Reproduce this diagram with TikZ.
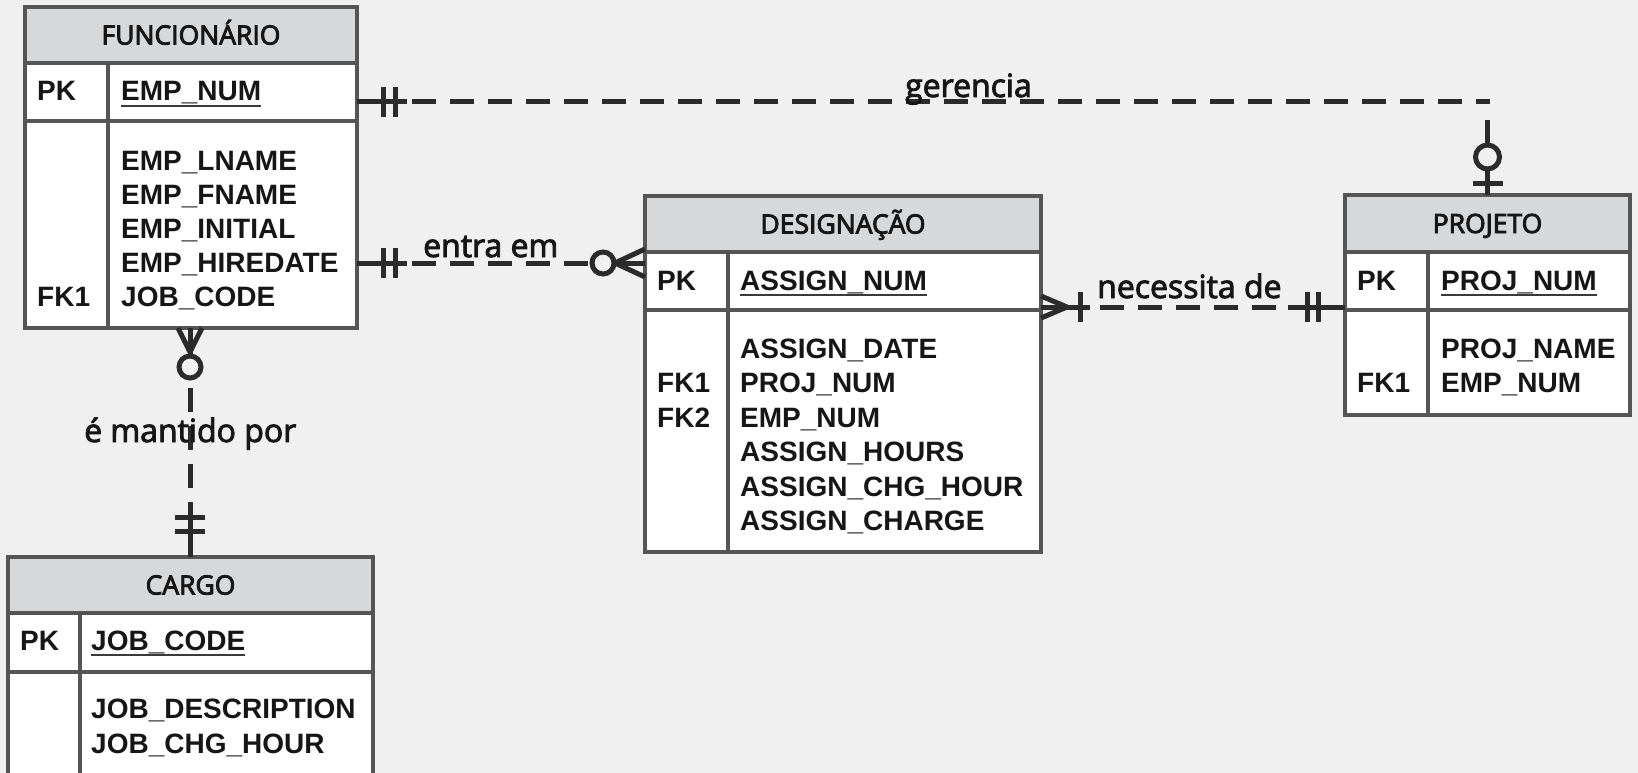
\documentclass[tikz,border=0pt]{standalone}
\usepackage{fontspec}
\setmainfont{Liberation Sans}
\newfontfamily\headfont{Open Sans}
\newfontfamily\fieldfont{Liberation Sans}
% glyphs filled and outlined, for a slightly heavier look of titles and role names
\newcommand\thickglyphs[1]{\special{pdf:literal 2 Tr 0.9 w}#1\special{pdf:literal 0 Tr}}

\definecolor{bg}{HTML}{F0F0F0}
\definecolor{hdrcol}{HTML}{D6D8DA}
\definecolor{bordercol}{HTML}{555555}
\definecolor{linecol}{HTML}{2B2B2B}
\definecolor{txtcol}{HTML}{161616}
\definecolor{ulcol}{HTML}{3A3A3A}

\tikzset{
  tbl/.style={draw=bordercol, line width=3.2pt, fill=white, anchor=north west,
    inner sep=0pt, outer sep=0pt},
  hdr/.style={draw=bordercol, line width=3.2pt, fill=hdrcol, anchor=north west,
    inner sep=0pt, outer sep=0pt, text=txtcol, text height=19pt, text depth=0pt,
    font=\headfont\fontsize{26.5}{30}\selectfont},
  fld/.style={anchor=base west, inner sep=0pt, text=txtcol,
    font=\fieldfont\bfseries\fontsize{28}{34}\selectfont},
  lbl/.style={anchor=base west, inner sep=0pt, text=txtcol,
    font=\headfont\fontsize{32}{38}\selectfont},
  sep/.style={draw=bordercol, line width=3.2pt},
  uline/.style={draw=ulcol, line width=2.5pt},
  rel/.style={draw=linecol, line width=5pt},
  reldash/.style={rel, dash pattern=on 24pt off 14pt},
  ring/.style={rel, fill=bg},
}

\begin{document}
\begin{tikzpicture}[x=1pt, y=-1pt]
  % canvas
  \path[fill=bg, use as bounding box] (0,0) rectangle (1638,773);

  % ---------- FUNCIONÁRIO ----------
  \node[tbl, minimum width=332pt, minimum height=321pt] (func) at (25,7) {};
  \node[hdr, minimum width=332pt, minimum height=56pt] (func-h) at (25,7) {\thickglyphs{FUNCIONÁRIO}};
  \draw[sep] (func.west |- 0,121) -- (func.east |- 0,121);
  \draw[sep] (func-h.south -| 108,0) -- (func.south -| 108,0);
  \node[fld] (func-pkk) at (37,101) {PK};
  \node[fld] (func-pk) at (121,101) {EMP\_NUM};
  \draw[uline] ([yshift=-5pt]func-pk.base west) -- ([yshift=-5pt]func-pk.base east);
  \foreach \t [count=\i] in {EMP\_LNAME, EMP\_FNAME, EMP\_INITIAL, EMP\_HIREDATE, JOB\_CODE}
    \node[fld] (func-a\i) at (121, {136+34*\i}) {\t};
  \node[fld] (func-fk1) at (37,306) {FK1};

  % ---------- DESIGNAÇÃO ----------
  \node[tbl, minimum width=396pt, minimum height=356pt] (desig) at (645,196) {};
  \node[hdr, minimum width=396pt, minimum height=56pt] (desig-h) at (645,196) {\thickglyphs{DESIGNAÇÃO}};
  \draw[sep] (desig.west |- 0,310) -- (desig.east |- 0,310);
  \draw[sep] (desig-h.south -| 728,0) -- (desig.south -| 728,0);
  \node[fld] (desig-pkk) at (657,290) {PK};
  \node[fld] (desig-pk) at (740,290) {ASSIGN\_NUM};
  \draw[uline] ([yshift=-5pt]desig-pk.base west) -- ([yshift=-5pt]desig-pk.base east);
  \foreach \t [count=\i] in {ASSIGN\_DATE, PROJ\_NUM, EMP\_NUM, ASSIGN\_HOURS, ASSIGN\_CHG\_HOUR, ASSIGN\_CHARGE}
    \node[fld] (desig-a\i) at (740, {324+34.4*\i}) {\t};
  \node[fld] (desig-fk1) at (657,392) {FK1};
  \node[fld] (desig-fk2) at (657,427) {FK2};

  % ---------- PROJETO ----------
  \node[tbl, minimum width=285pt, minimum height=220pt] (proj) at (1345,195) {};
  \node[hdr, minimum width=285pt, minimum height=57pt] (proj-h) at (1345,195) {\thickglyphs{PROJETO}};
  \draw[sep] (proj.west |- 0,310) -- (proj.east |- 0,310);
  \draw[sep] (proj-h.south -| 1428,0) -- (proj.south -| 1428,0);
  \node[fld] (proj-pkk) at (1357,290) {PK};
  \node[fld] (proj-pk) at (1441,290) {PROJ\_NUM};
  \draw[uline] ([yshift=-5pt]proj-pk.base west) -- ([yshift=-5pt]proj-pk.base east);
  \node[fld] (proj-a1) at (1441,358) {PROJ\_NAME};
  \node[fld] (proj-a2) at (1441,392) {EMP\_NUM};
  \node[fld] (proj-fk1) at (1357,392) {FK1};

  % ---------- CARGO ----------
  \node[tbl, minimum width=365pt, minimum height=222pt] (cargo) at (8,557) {};
  \node[hdr, minimum width=365pt, minimum height=56pt] (cargo-h) at (8,557) {\thickglyphs{CARGO}};
  \draw[sep] (cargo.west |- 0,672) -- (cargo.east |- 0,672);
  \draw[sep] (cargo-h.south -| 80,0) -- (cargo.south -| 80,0);
  \node[fld] (cargo-pkk) at (20,650) {PK};
  \node[fld] (cargo-pk) at (91,650) {JOB\_CODE};
  \draw[uline] ([yshift=-5pt]cargo-pk.base west) -- ([yshift=-5pt]cargo-pk.base east);
  \node[fld] (cargo-a1) at (91,718) {JOB\_DESCRIPTION};
  \node[fld] (cargo-a2) at (91,753) {JOB\_CHG\_HOUR};

  % ---------- gerencia: FUNCIONÁRIO (1) -- PROJETO (0..1) ----------
  \coordinate (ga) at (func.east |- 0,102);
  \coordinate (gb) at (proj.north);
  \coordinate (gc) at (gb |- ga);
  \draw[rel] (ga) -- ++(50,0);
  \draw[rel] (ga) ++(26,-15) -- ++(0,30);
  \draw[rel] (ga) ++(38,-15) -- ++(0,30);
  \draw[reldash] (ga) ++(55,0) -- ([xshift=2pt]gc);
  \draw[rel] (gc) ++(0,18) -- (gb);
  \draw[rel] (gb) ++(-15,-12) -- ++(30,0);
  \draw[ring] (gb) ++(0,-38) circle[radius=12pt];

  % ---------- entra em: FUNCIONÁRIO (1) -- DESIGNAÇÃO (0..n) ----------
  \coordinate (ea) at (func.east |- 0,263);
  \coordinate (eb) at (desig.west |- ea);
  \draw[rel] (ea) -- ++(50,0);
  \draw[rel] (ea) ++(26,-15) -- ++(0,30);
  \draw[rel] (ea) ++(38,-15) -- ++(0,30);
  \draw[reldash] (ea) ++(55,0) -- ([xshift=-54pt]eb);
  \draw[rel] ([xshift=-32pt]eb) -- (eb);
  \draw[rel] ([xshift=-30pt]eb) -- ([yshift=14pt]eb);
  \draw[rel] ([xshift=-30pt]eb) -- ([yshift=-14pt]eb);
  \draw[ring] ([xshift=-42pt]eb) circle[radius=11pt];

  % ---------- necessita de: DESIGNAÇÃO (1..n) -- PROJETO (1) ----------
  \coordinate (na) at (desig.east |- 0,307);
  \coordinate (nb) at (proj.west |- na);
  \draw[rel] (na) -- ++(49,0);
  \draw[rel] ([yshift=11pt]na) -- ([xshift=26pt]na);
  \draw[rel] ([yshift=-11pt]na) -- ([xshift=26pt]na);
  \draw[rel] (na) ++(39,-15) -- ++(0,30);
  \draw[reldash] (na) ++(59,0) -- ([xshift=-60pt]nb);
  \draw[rel] ([xshift=-57pt]nb) -- (nb);
  \draw[rel] (nb) ++(-38,-15) -- ++(0,30);
  \draw[rel] (nb) ++(-27,-15) -- ++(0,30);

  % ---------- é mantido por: FUNCIONÁRIO (0..n) -- CARGO (1) ----------
  \coordinate (mx) at (190,0);
  \coordinate (ma) at (func.south -| mx);
  \coordinate (mb) at (cargo.north -| mx);
  \draw[rel] (ma) -- ++(0,30);
  \draw[rel] (ma) ++(-12,0) -- ++(12,24);
  \draw[rel] (ma) ++(12,0) -- ++(-12,24);
  \draw[ring] (ma) ++(0,39) circle[radius=11pt];
  \draw[reldash] (ma) ++(0,60) -- ([yshift=62pt]mb);
  \draw[rel] (mb) ++(0,-55) -- (mb);
  \draw[rel] (mb) ++(-15,-40) -- ++(30,0);
  \draw[rel] (mb) ++(-15,-26) -- ++(30,0);

  % relationship names
  \node[lbl] (l-ger) at (905,97) {\thickglyphs{gerencia}};
  \node[lbl] (l-ent) at (423,257) {\thickglyphs{entra em}};
  \node[lbl] (l-nec) at (1097,298) {\thickglyphs{necessita de}};
  \node[lbl] (l-man) at (84,442) {\thickglyphs{é mantido por}};
\end{tikzpicture}
\end{document}
